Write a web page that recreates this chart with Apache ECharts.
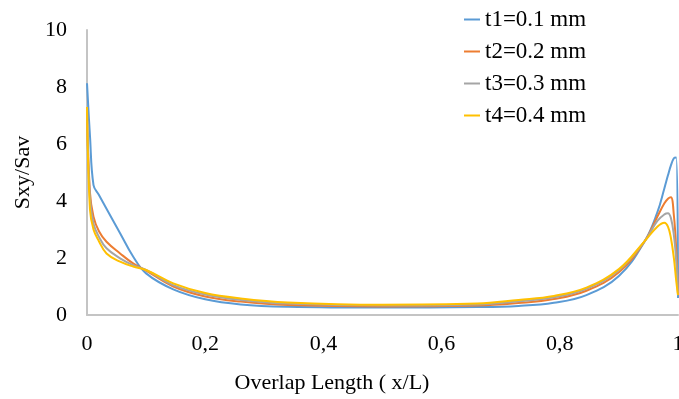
<!DOCTYPE html>
<html>
<head>
<meta charset="utf-8">
<script src="https://cdn.jsdelivr.net/npm/echarts@6/dist/echarts.min.js"></script>
<style>
  html, body { margin: 0; padding: 0; background: #fff; }
  #chart { width: 679px; height: 399px; }
</style>
</head>
<body>
<div id="chart"></div>
<script>
// x/L positions shared by all four curves
const xs = [0, 0.005, 0.011, 0.02, 0.033, 0.056, 0.078, 0.1, 0.146, 0.2, 0.26, 0.34, 0.5, 0.66, 0.73, 0.79, 0.845, 0.9, 0.944, 0.965, 0.977, 0.983, 0.988, 0.993, 0.997, 1]

const t1 = [8.13, 6.3, 4.56, 4.22, 3.73, 2.87, 2.05, 1.46, 0.9, 0.55, 0.37, 0.29, 0.26, 0.28, 0.32, 0.43, 0.7, 1.37, 2.6, 3.6, 4.45, 4.9, 5.25, 5.5, 5.53, 0.6]
const t2 = [7.19, 4.3, 3.45, 2.95, 2.57, 2.16, 1.81, 1.56, 1.0, 0.65, 0.47, 0.35, 0.3, 0.33, 0.42, 0.56, 0.85, 1.5, 2.6, 3.45, 3.92, 4.08, 4.13, 3.5, 2.3, 0.7]
const t3 = [7.2, 4.1, 3.2, 2.75, 2.34, 1.99, 1.75, 1.58, 1.05, 0.72, 0.53, 0.4, 0.33, 0.37, 0.48, 0.62, 0.92, 1.57, 2.6, 3.3, 3.53, 3.57, 3.4, 2.8, 1.9, 0.75]
const t4 = [7.3, 3.7, 3.0, 2.6, 2.16, 1.87, 1.7, 1.58, 1.11, 0.77, 0.58, 0.44, 0.36, 0.4, 0.53, 0.67, 0.96, 1.61, 2.6, 3.1, 3.24, 3.1, 2.7, 2.0, 1.2, 0.7]

const seriesNames = ['t1=0.1 mm', 't2=0.2 mm', 't3=0.3 mm', 't4=0.4 mm']
const seriesColors = ['#5b9bd5', '#ed7d31', '#a5a5a5', '#ffc000']
const xTickLabels = ['0', '0,2', '0,4', '0,6', '0,8', '1']

const font = '"Liberation Serif", "Times New Roman", serif'

const chart = echarts.init(document.getElementById('chart'))
chart.setOption({
  animation: false,
  textStyle: { fontFamily: font },
  grid: { left: 87, right: 1, top: 30, bottom: 84, outerBoundsMode: 'none' },
  legend: {
    orient: 'vertical',
    left: 459,
    top: 3,
    itemGap: 9,
    itemWidth: 16,
    itemHeight: 2,
    icon: 'rect',
    textStyle: { fontFamily: font, fontSize: 23, color: '#000', lineHeight: 23 },
    data: seriesNames,
  },
  xAxis: {
    type: 'value',
    min: 0,
    max: 1,
    interval: 0.2,
    name: 'Overlap Length ( x/L)',
    nameLocation: 'middle',
    nameGap: 57,
    nameTextStyle: { fontFamily: font, fontSize: 22, color: '#000', padding: [0, 101, 0, 0] },
    axisLine: { lineStyle: { color: '#c4c4c4', width: 2 } },
    axisTick: { show: false },
    splitLine: { show: false },
    axisLabel: {
      fontFamily: font,
      fontSize: 22,
      color: '#000',
      margin: 18,
      formatter: (v, i) => xTickLabels[i],
    },
  },
  yAxis: {
    type: 'value',
    min: 0,
    max: 10,
    interval: 2,
    name: 'Sxy/Sav',
    nameLocation: 'middle',
    nameGap: 52,
    nameTextStyle: { fontFamily: font, fontSize: 22, color: '#000' },
    axisLine: { show: true, lineStyle: { color: '#c4c4c4', width: 2 } },
    axisTick: { show: false },
    splitLine: { show: false },
    axisLabel: { fontFamily: font, fontSize: 22, color: '#000', margin: 20 },
  },
  series: [t1, t2, t3, t4].map((ys, k) => ({
    name: seriesNames[k],
    type: 'line',
    smooth: 0.4,
    symbol: 'none',
    lineStyle: { color: seriesColors[k], width: 2 },
    itemStyle: { color: seriesColors[k] },
    data: xs.map((x, i) => [x, ys[i]]),
  })),
})
</script>
</body>
</html>
